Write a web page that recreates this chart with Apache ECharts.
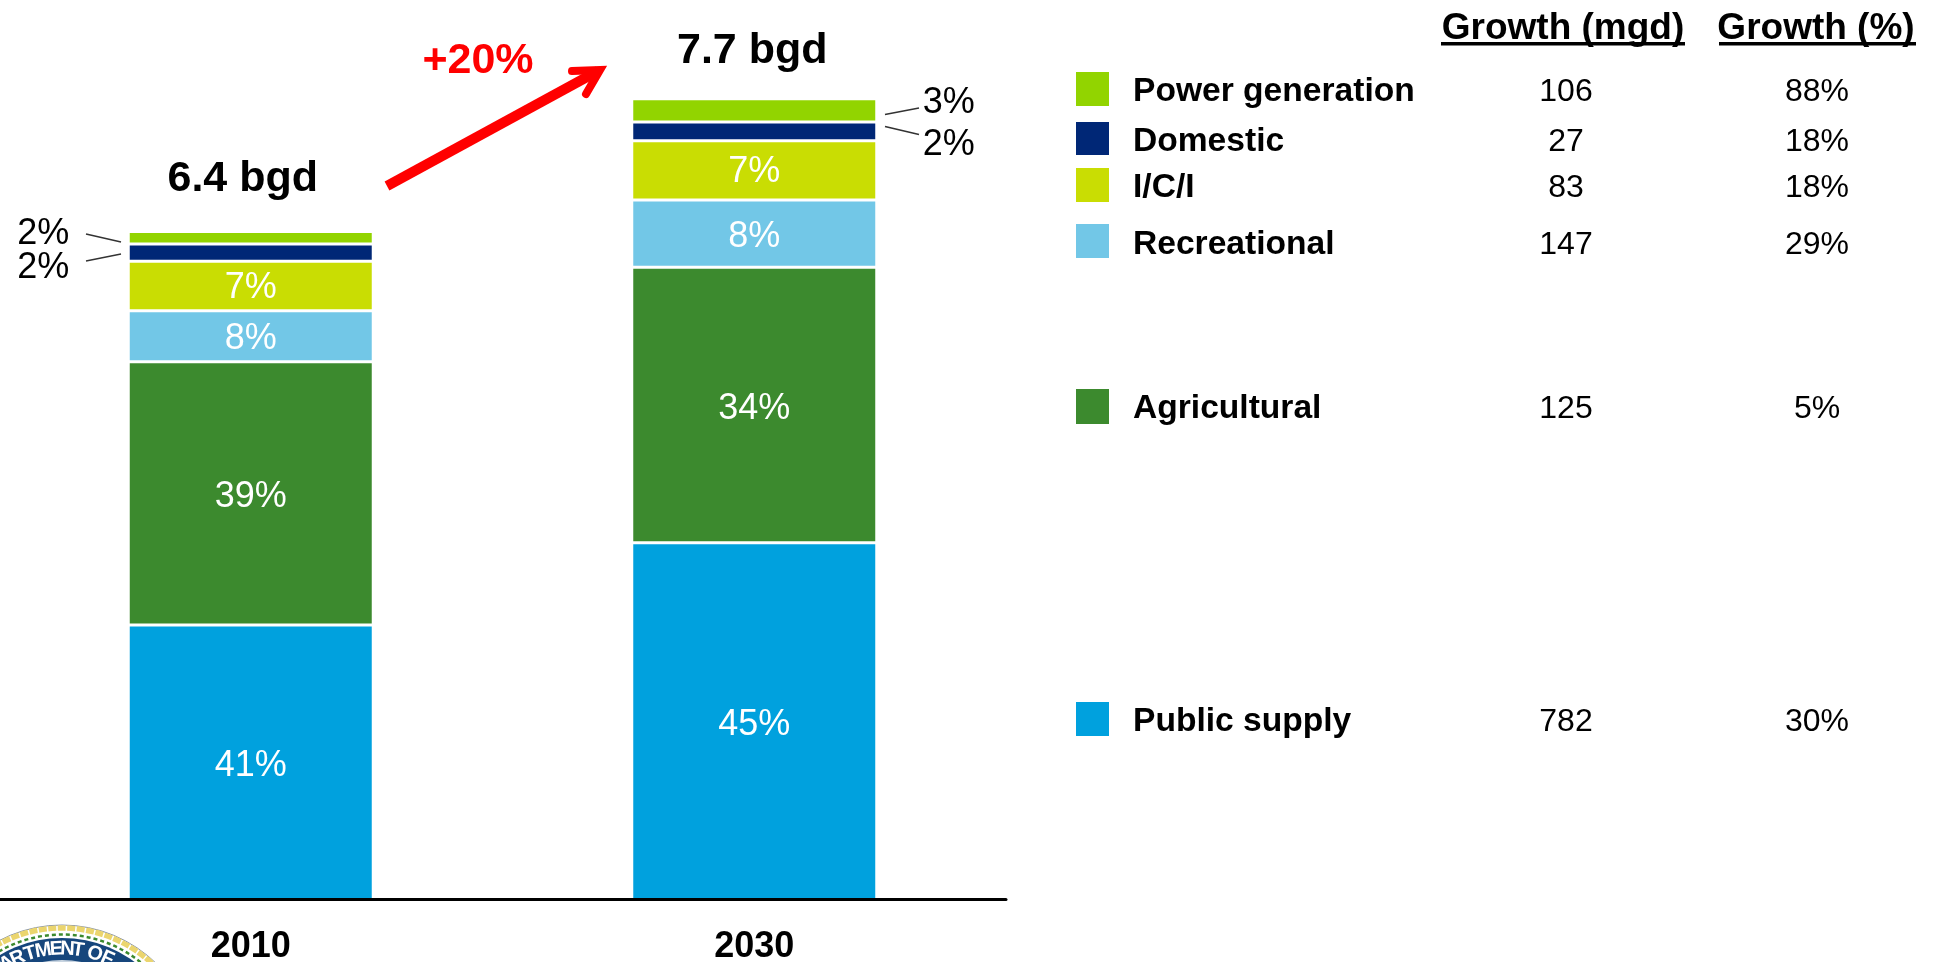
<!DOCTYPE html>
<html><head><meta charset="utf-8">
<style>html,body{margin:0;padding:0;background:#fff}#c{width:1937px;height:962px}</style>
<script src="https://cdn.jsdelivr.net/npm/echarts@6/dist/echarts.min.js"></script>
</head><body><div id="c"></div>
<script>
const years = ['2010', '2030'];
const totals = [6.4, 7.7];
const totalLabels = ['6.4 bgd', '7.7 bgd'];
const growthLabel = '+20%';
const sectors = ['Public supply', 'Agricultural', 'Recreational', 'I/C/I', 'Domestic', 'Power generation'];
const publicSupply = [2.64, 3.43];
const agricultural = [2.53, 2.65];
const recreational = [0.49, 0.645];
const ici = [0.477, 0.57];
const domestic = [0.167, 0.18];
const power = [0.12, 0.225];
const publicPct = ['41%', '45%'];
const agriculturalPct = ['39%', '34%'];
const recreationalPct = ['8%', '8%'];
const iciPct = ['7%', '7%'];
const domesticPct = ['2%', '2%'];
const powerPct = ['2%', '3%'];
const growthMgd = ['782', '125', '147', '83', '27', '106'];
const growthPct = ['30%', '5%', '29%', '18%', '18%', '88%'];
const tableHeaders = ['Growth (mgd)', 'Growth (%)'];
const colors = ['#00A1DE', '#3C8A2E', '#72C7E7', '#C9DD03', '#002776', '#92D400'];

const FONT = '"Liberation Sans", Arial, sans-serif';
const legendBoxTop = [702, 389, 224, 168, 122, 72];
const legendBoxH = [34, 35, 34, 34, 33, 34];
const rowCenter = [722, 409, 245, 188, 142, 92];

function bar(name, values, pcts, idx, dy) {
  return {
    name: name, type: 'bar', stack: 't', barWidth: 245, z: 2,
    itemStyle: { color: colors[idx], borderColor: '#fff', borderWidth: 1.5 },
    label: { show: true, position: 'inside', color: '#fff', fontFamily: FONT, fontSize: 36, offset: [0, dy],
      formatter: p => pcts[p.dataIndex] },
    data: values
  };
}
function outer(name, values, pcts, idx, off0, off1) {
  return {
    name: name, type: 'bar', stack: 't', barWidth: 245, z: 2,
    itemStyle: { color: colors[idx], borderColor: '#fff', borderWidth: 1.5 },
    data: [
      { value: values[0], label: { show: true, position: 'left', distance: 59, offset: [0, off0], color: '#000', fontFamily: FONT, fontSize: 36, formatter: pcts[0] } },
      { value: values[1], label: { show: true, position: 'right', distance: 46, offset: [0, off1], color: '#000', fontFamily: FONT, fontSize: 36, formatter: pcts[1] } }
    ]
  };
}

const g = [];
function leader(x1, y1, x2, y2) {
  g.push({ type: 'line', shape: { x1, y1, x2, y2 }, style: { stroke: '#333', lineWidth: 1.5 } });
}
leader(86, 234, 121, 242); leader(86, 261, 121, 254);
leader(885, 114.5, 919, 108); leader(885, 126.5, 919, 134.5);

// growth arrow
g.push({ type: 'polyline', shape: { points: [[387, 186], [598, 71]] }, style: { stroke: '#f00', lineWidth: 10, fill: null } });
g.push({ type: 'polyline', shape: { points: [[572, 71], [600, 70], [586, 94]] }, style: { stroke: '#f00', lineWidth: 8, fill: null, lineCap: 'round', lineJoin: 'miter' } });
g.push({ type: 'text', x: 478, y: 61, style: { text: growthLabel, fill: '#f00', font: 'bold 43px ' + FONT, textAlign: 'center', textVerticalAlign: 'middle' } });

// legend + table
sectors.forEach((s, i) => {
  g.push({ type: 'rect', shape: { x: 1076, y: legendBoxTop[i], width: 33, height: legendBoxH[i] }, style: { fill: colors[i] } });
  g.push({ type: 'text', x: 1133, y: rowCenter[i], style: { text: s, fill: '#000', font: 'bold 33.6px ' + FONT, textVerticalAlign: 'middle' } });
  g.push({ type: 'text', x: 1566, y: rowCenter[i], style: { text: growthMgd[i], fill: '#000', font: '32px ' + FONT, textAlign: 'center', textVerticalAlign: 'middle' } });
  g.push({ type: 'text', x: 1817, y: rowCenter[i], style: { text: growthPct[i], fill: '#000', font: '32px ' + FONT, textAlign: 'center', textVerticalAlign: 'middle' } });
});
g.push({ type: 'text', x: 1563, y: 29, style: { text: tableHeaders[0], fill: '#000', font: 'bold 37px ' + FONT, textAlign: 'center', textVerticalAlign: 'middle' } });
g.push({ type: 'text', x: 1816, y: 29, style: { text: tableHeaders[1], fill: '#000', font: 'bold 37px ' + FONT, textAlign: 'center', textVerticalAlign: 'middle' } });
g.push({ type: 'rect', shape: { x: 1441, y: 42, width: 244, height: 3.5 }, style: { fill: '#000' } });
g.push({ type: 'rect', shape: { x: 1719, y: 42, width: 197, height: 3.5 }, style: { fill: '#000' } });

// seal, cropped by the bottom of the page
const sc = [62, 1060], sr = 135;
g.push({ type: 'circle', shape: { cx: sc[0], cy: sc[1], r: sr }, style: { fill: '#fff', stroke: '#8a95a5', lineWidth: 1 } });
g.push({ type: 'circle', shape: { cx: sc[0], cy: sc[1], r: sr - 3 }, style: { fill: 'none', stroke: '#EBD56E', lineWidth: 5.5, lineDash: [8, 1.5] } });
g.push({ type: 'circle', shape: { cx: sc[0], cy: sc[1], r: sr - 9.5 }, style: { fill: 'none', stroke: '#3C8A2E', lineWidth: 2.5, lineDash: [4, 3] } });
g.push({ type: 'circle', shape: { cx: sc[0], cy: sc[1], r: sr - 13 }, style: { fill: '#16467C' } });
g.push({ type: 'circle', shape: { cx: sc[0], cy: sc[1], r: sr - 35 }, style: { fill: '#c8d4e0' } });
const sealLetters = 'DEPARTMENT OF'.split('');
const sealAngles = [-0.78, -0.69, -0.61, -0.52, -0.41, -0.29, -0.17, -0.05, 0.05, 0.146, 0.22, 0.30, 0.42];
sealLetters.forEach((ch, i) => {
  const a = sealAngles[i];
  const r = sr - 24;
  g.push({ type: 'text', x: sc[0] + r * Math.sin(a), y: sc[1] - r * Math.cos(a), rotation: -a,
    style: { text: ch, fill: '#fff', font: 'bold 20px ' + FONT, textAlign: 'center', textVerticalAlign: 'middle' } });
});

const chart = echarts.init(document.getElementById('c'), null, { renderer: 'canvas' });
chart.setOption({
  animation: false,
  backgroundColor: '#fff',
  grid: { left: -1, top: 67.5, width: 1007, height: 832, containLabel: false, outerBoundsMode: 'none' },
  xAxis: { type: 'category', data: years, axisTick: { show: false },
    axisLine: { show: true, onZero: false, lineStyle: { color: '#000', width: 3 } },
    z: 5,
    axisLabel: { color: '#000', fontFamily: FONT, fontWeight: 'bold', fontSize: 36, margin: 30 } },
  yAxis: { type: 'value', min: 0, max: 8, show: false, splitLine: { show: false } },
  series: [
    bar(sectors[0], publicSupply, publicPct, 0, 4),
    bar(sectors[1], agricultural, agriculturalPct, 1, 4),
    bar(sectors[2], recreational, recreationalPct, 2, 3),
    bar(sectors[3], ici, iciPct, 3, 2),
    outer(sectors[4], domestic, domesticPct, 4, 16, 14),
    outer(sectors[5], power, powerPct, 5, -4, -7),
    { name: 'Total', type: 'line', symbol: 'circle', symbolSize: 1, itemStyle: { color: 'rgba(0,0,0,0)' }, lineStyle: { opacity: 0 }, z: 3,
      label: { show: true, position: 'top', color: '#000', fontFamily: FONT, fontWeight: 'bold', fontSize: 43,
        formatter: p => totalLabels[p.dataIndex] },
      data: [
        { value: totals[0], label: { distance: 33, offset: [-8, 0] } },
        { value: totals[1], label: { distance: 26, offset: [-2, 0] } }
      ] }
  ],
  graphic: g
});
</script></body></html>
